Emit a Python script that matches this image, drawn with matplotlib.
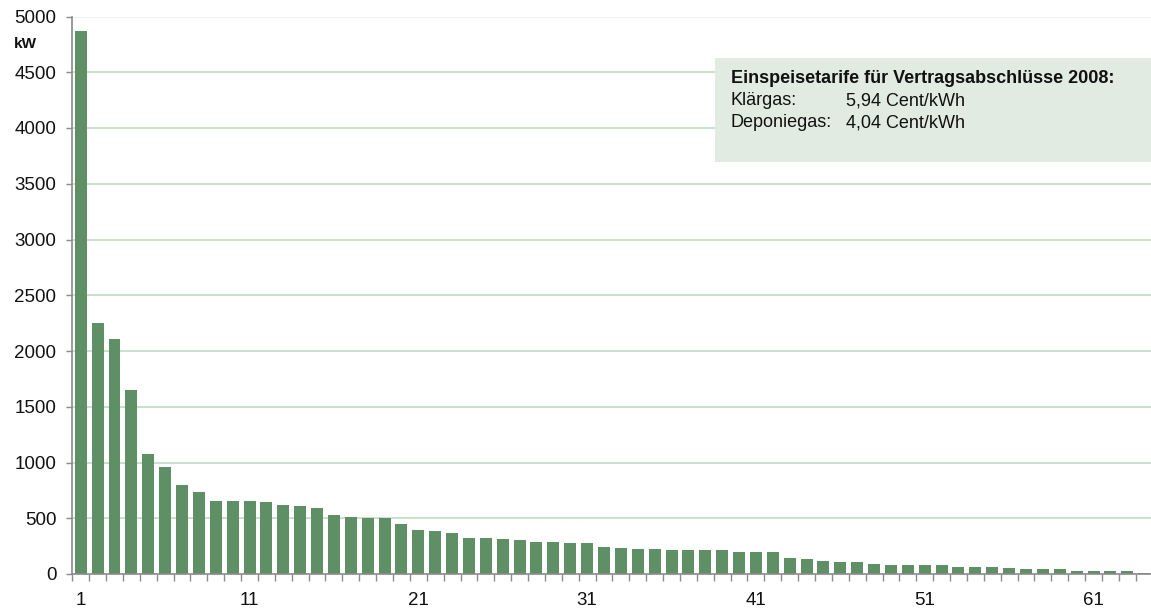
import matplotlib
matplotlib.use("Agg")
import matplotlib.pyplot as plt
from matplotlib.patches import Rectangle

plt.rcParams['font.family'] = ['Liberation Sans', 'DejaVu Sans']

# Data
categories = list(range(1, 65))
values = [4870, 2250, 2110, 1650, 1075, 960, 800, 735, 655, 655,
          655, 645, 620, 610, 590, 530, 510, 500, 500, 450,
          395, 385, 370, 325, 325, 315, 305, 290, 290, 280,
          280, 245, 235, 225, 225, 215, 215, 215, 215, 200,
          200, 200, 145, 135, 115, 110, 110, 90, 80, 80,
          80, 80, 65, 65, 65, 55, 45, 45, 45, 30,
          30, 30, 30, 10]
xtick_labels = [1, 11, 21, 31, 41, 51, 61]
yticks = list(range(0, 5001, 500))
box_title = "Einspeisetarife für Vertragsabschlüsse 2008:"
box_rows = [("Klärgas:", "5,94 Cent/kWh"), ("Deponiegas:", "4,04 Cent/kWh")]

W, H = 1151, 609
fig = plt.figure(figsize=(W / 100, H / 100), dpi=100)
x0, x1 = 72.3, 1152.6
y0, y1 = 574, 16.5
ax = fig.add_axes([x0 / W, (H - y0) / H, (x1 - x0) / W, (y0 - y1) / H])

bar_color = '#5f8f64'
ax.bar(categories, values, width=0.71, color=bar_color, zorder=3)

ax.set_xlim(0.5, 64.5)
ax.set_ylim(0, 5000)

# Gridlines
for yv in yticks[1:-1]:
    ax.axhline(yv, color='#c2dbc2', linewidth=1.2, zorder=1)
ax.axhline(5000, color='#f2f4f2', linewidth=1.0, zorder=1)

for s in ['top', 'right']:
    ax.spines[s].set_visible(False)
for s in ['left', 'bottom']:
    ax.spines[s].set_color('#8a8a8a')
    ax.spines[s].set_linewidth(1.2)
    ax.spines[s].set_zorder(4)

ax.set_yticks(yticks)
ax.set_yticklabels([str(v) for v in yticks])
ax.tick_params(axis='y', length=4, width=1, color='#8a8a8a', pad=7.5,
               labelsize=13.5, labelcolor='#111111')

ax.set_xticks(xtick_labels)
ax.set_xticklabels([str(v) for v in xtick_labels])
ax.set_xticks([c + 0.5 for c in range(0, 64)], minor=True)
ax.tick_params(axis='x', which='major', length=0, pad=13,
               labelsize=13.5, labelcolor='#111111')
ax.tick_params(axis='x', which='minor', length=5, width=1, color='#8a8a8a')

# kW label
fig.text(25 / W, 1 - 44 / H, "kW", ha='center', va='center',
         fontsize=11, fontweight='bold', color='#111111')

# Info box
fig.patches.append(Rectangle((715 / W, 1 - 162 / H), (W - 715) / W, (162 - 58) / H,
                             transform=fig.transFigure, facecolor='#e1ebe1',
                             edgecolor='none', zorder=5))
fig.text(731 / W, 1 - 83 / H, box_title, ha='left', va='baseline',
         fontsize=13, fontweight='bold', color='#111111', zorder=6)
for i, (lab, val) in enumerate(box_rows):
    yb = 1 - (105 + 22 * i) / H
    fig.text(731 / W, yb, lab, ha='left', va='baseline', fontsize=13,
             color='#111111', zorder=6)
    fig.text(846 / W, yb, val, ha='left', va='baseline', fontsize=13,
             color='#111111', zorder=6)

fig.savefig('out.png', dpi=100)
